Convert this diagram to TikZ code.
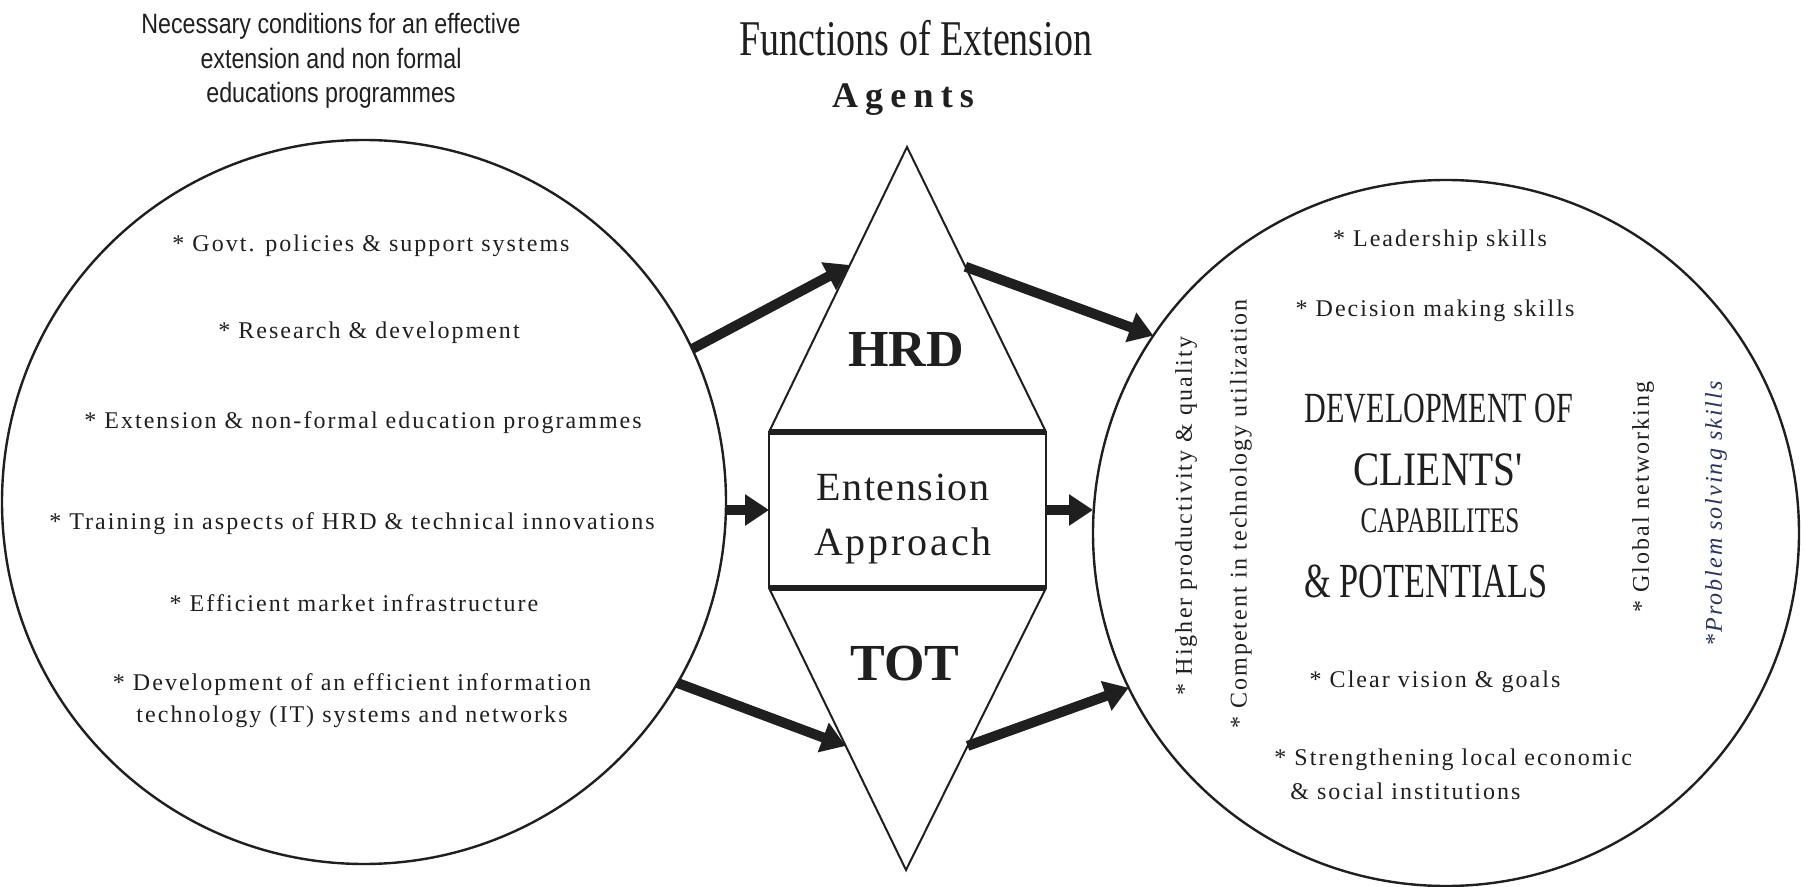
\documentclass[tikz,border=0pt]{standalone}
\usepackage{fontspec}
\setmainfont{Liberation Serif}
\newfontfamily\headsans[FakeStretch=0.83]{Liberation Sans}
\newfontfamily\narrowserif[FakeStretch=0.76]{Liberation Serif}
\newfontfamily\condserif[FakeStretch=0.70]{Liberation Serif}
\newfontfamily\clientserif[FakeStretch=0.82]{Liberation Serif}
\newfontfamily\spacedserif[LetterSpace=8.5]{Liberation Serif}
\newfontfamily\widebold[LetterSpace=20]{Liberation Serif}
\usetikzlibrary{arrows.meta,calc,positioning}
\definecolor{ink}{gray}{0.12}
\definecolor{inkblue}{rgb}{0.16,0.20,0.36}
\tikzset{
    >={Triangle[length=12pt,width=15pt]},
    every node/.style={text=ink},
    head text/.style={font=\headsans\fontsize{14}{17.3}\selectfont, align=center, inner sep=0pt},
    func title/.style={font=\narrowserif\fontsize{25}{30}\selectfont, inner sep=0pt},
    agent title/.style={font=\widebold\bfseries\fontsize{18}{20}\selectfont, inner sep=0pt},
    big circle/.style={circle, draw=ink, line width=1.2pt, inner sep=0pt, outer sep=0pt},
    approach box/.style={draw=ink, line width=1.3pt, minimum width=138.5pt, minimum height=78pt,
        inner sep=0pt, outer sep=0pt},
    box text/.style={align=center, inner sep=0pt, font=\fontsize{20}{27.5}\selectfont},
    edge line/.style={draw=ink, line width=1pt, line join=miter},
    shape label/.style={font=\bfseries\fontsize{26}{30}\selectfont, inner sep=0pt},
    item/.style={font=\spacedserif\fontsize{12}{16}\selectfont, align=center, inner sep=0pt},
    dev text/.style={font=\condserif\fontsize{21.5}{24}\selectfont, inner sep=0pt},
    flow/.style={->, color=ink, line width=5pt}
}
\begin{document}
\begin{tikzpicture}[x=0.5pt, y=-0.5pt]
    \useasboundingbox (0,0) rectangle (1805,887);
    % headings
    \node[head text] (cond) at (331,61) {Necessary conditions for an effective\\extension and non formal\\educations programmes};
    \node[func title] (func) at (916,38) {Functions of Extension};
    \node[agent title] (agents) at (903,100) {Agents};
    % the two circles
    \node[big circle, minimum size=362pt] (lc) at (364,502) {};
    \node[big circle, minimum size=353pt] (rc) at (1446,533) {};
    % centre piece
    \node[approach box] (approach) at (907.5,510) {};
    \node[box text] (approachtext) at (903,519) {{\addfontfeature{LetterSpace=4}Entension}\\{\addfontfeature{LetterSpace=7}Approach}};
    \coordinate (apex) at (907,147);
    \coordinate (foot) at (906,870);
    \draw[edge line] (approach.north west) -- (apex) -- (approach.north east);
    \draw[edge line] (approach.south west) -- (foot) -- (approach.south east);
    \draw[draw=ink, line width=3pt] (approach.north west) -- (approach.north east);
    \draw[draw=ink, line width=3pt] (approach.south west) -- (approach.south east);
    \node[shape label] (hrd) at (906,350) {HRD};
    \node[shape label] (tot) at (905,664) {TOT};
    \coordinate (hrd in) at ($(apex)!0.414!(approach.north west)$);
    \coordinate (hrd out) at ($(apex)!0.42!(approach.north east)$);
    \coordinate (tot in) at ($(approach.south west)!0.56!(foot)$);
    \coordinate (tot out) at ($(approach.south east)!0.56!(foot)$);
    % left circle
    \node[item] (govt) at (371,246) {* Govt. policies \& support systems};
    \node[item] (research) at (369,333) {* Research \& development};
    \node[item] (extension) at (363,423) {* Extension \& non-formal education programmes};
    \node[item] (training) at (352,524) {* Training in aspects of HRD \& technical innovations};
    \node[item] (market) at (354,603) {* Efficient market infrastructure};
    \node[item] (infotech) at (352,701) {* Development of an efficient information\\technology (IT) systems and networks};
    % right circle
    \node[item] (lead) at (1440,241) {* Leadership skills};
    \node[item] (decide) at (1435,311) {* Decision making skills};
    \node[dev text] (dev) at (1439,409) {DEVELOPMENT OF};
    \node[dev text, font=\clientserif\fontsize{24}{26}\selectfont] (clients) at (1438,470) {CLIENTS'};
    \node[dev text, font=\condserif\fontsize{18}{22}\selectfont] (capab) at (1440,521) {CAPABILITES};
    \node[dev text, font=\condserif\fontsize{24.5}{27}\selectfont] (potent) at (1426,581) {\& POTENTIALS};
    \node[item, rotate=90] (higher) at (1186,516) {* Higher productivity \& quality};
    \node[item, rotate=90] (competent) at (1241,514) {* Competent in technology utilization};
    \node[item, rotate=90] (global) at (1643,497) {* Global networking};
    \node[item, rotate=90, font=\spacedserif\itshape\fontsize{12}{16}\selectfont, text=inkblue] (problem) at (1716,514) {*Problem solving skills};
    \node[item] (vision) at (1435,682) {* Clear vision \& goals};
    \node[item, anchor=west] (local) at (1274,760) {* Strengthening local economic};
    \node[item, anchor=west] (social) at (1290,791) {\& social institutions};
    % arrows
    \path[flow]
        (lc.25) edge (hrd in)
        (lc.east |- approach.west) edge (approach.west)
        (lc.-30) edge (tot in)
        (hrd out) edge (rc.146)
        (approach.east) edge (rc.west |- approach.east)
        (tot out) edge (rc.206)
        ;
\end{tikzpicture}
\end{document}
